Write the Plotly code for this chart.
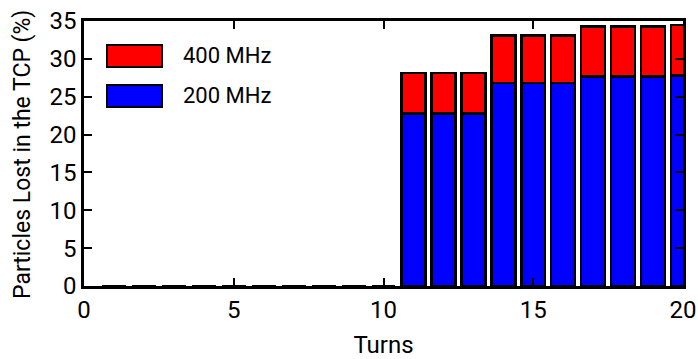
import plotly.graph_objects as go

turns = list(range(1, 21))
lost_200 = [0]*10 + [22.8, 22.8, 22.8, 26.8, 26.8, 26.8, 27.7, 27.7, 27.7, 27.8]
lost_400 = [0]*10 + [5.3, 5.3, 5.3, 6.3, 6.3, 6.3, 6.55, 6.55, 6.55, 6.7]
series_names = ["200 MHz", "400 MHz"]
series_colors = ["#0000ff", "#ff0000"]

FONT = "Roboto"
PW, PH = 599, 265  # plot-area size in px (for paper-coordinate decorations)

fig = go.Figure()
for name, vals, col in zip(series_names, [lost_200, lost_400], series_colors):
    fig.add_trace(go.Bar(x=turns, y=vals, name=name, width=0.8,
                         marker=dict(color=col, line=dict(color="black", width=2.5)),
                         showlegend=False))

# custom legend (large rectangles like the reference)
legend_items = [("400 MHz", "#ff0000"), ("200 MHz", "#0000ff")]
shapes = []
annotations = []
x0p, x1p = 23 / PW, 78 / PW
for i, (lab, col) in enumerate(legend_items):
    yc = 1 - (35 + i * 40) / PH
    h = 11 / PH
    shapes.append(dict(type="rect", xref="paper", yref="paper", x0=x0p, x1=x1p,
                       y0=yc - h, y1=yc + h, fillcolor=col,
                       line=dict(color="black", width=2)))
    annotations.append(dict(text=lab, xref="paper", yref="paper",
                            x=97 / PW, y=yc, xanchor="left", yanchor="middle",
                            showarrow=False, font=dict(family=FONT, size=22, color="black")))

# y-axis title as a rotated annotation
annotations.append(dict(text="Particles Lost in the TCP (%)", xref="paper", yref="paper",
                        x=-62 / PW, y=1 - 134 / PH, xanchor="center", yanchor="middle",
                        textangle=-90, showarrow=False,
                        font=dict(family=FONT, size=23, color="black")))

fig.update_layout(
    barmode="stack",
    width=698, height=359,
    margin=dict(l=84, r=15, t=21, b=73),
    plot_bgcolor="white", paper_bgcolor="white",
    font=dict(family=FONT, size=24, color="black"),
    shapes=shapes, annotations=annotations,
    xaxis=dict(range=[0, 20], tickvals=[0, 5, 10, 15, 20], ticks="inside", ticklen=8,
               tickwidth=1.5, tickcolor="black", mirror="ticks", showline=True,
               linecolor="black", linewidth=2.5, showgrid=False, zeroline=False,
               automargin=False, ticklabeloverflow="allow",
               title=dict(text="Turns", font=dict(size=24), standoff=17),
               tickfont=dict(size=24)),
    yaxis=dict(range=[0, 35], tickvals=[0, 5, 10, 15, 20, 25, 30, 35], ticks="inside", ticklen=8,
               tickwidth=1.5, tickcolor="black", mirror="ticks", showline=True,
               linecolor="black", linewidth=2.5, showgrid=False, zeroline=False,
               automargin=False, ticklabeloverflow="allow",
               tickfont=dict(size=24)),
)

fig.write_html("out.html", config={"displayModeBar": False},
               post_script="document.body.style.margin='0';document.body.style.overflow='hidden';")
